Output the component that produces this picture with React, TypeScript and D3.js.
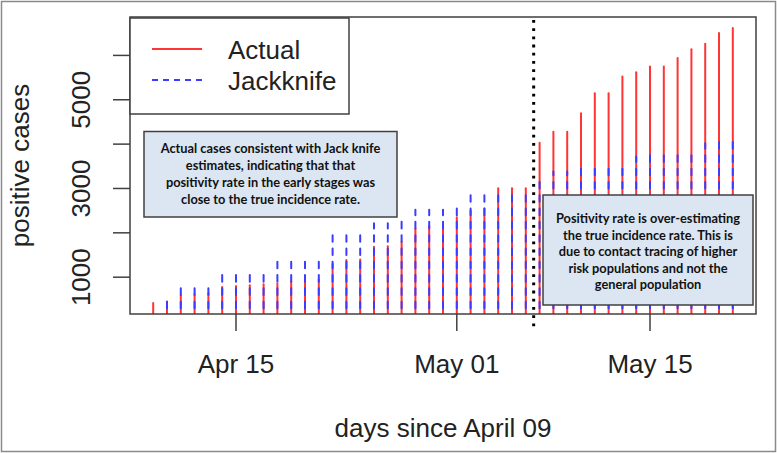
import React from "react";
import * as d3 from "d3";

// ---- data ----
const startDate = "2020-04-09";
const dayIndex = d3.range(0, 43); // days since April 09
const actual = [418, 450, 600, 620, 640, 780, 800, 820, 840, 860, 900, 920, 950,
  1300, 1385, 1400, 1685, 1700, 1800, 2100, 2150, 2200, 2350, 2500, 2550, 3003, 3003, 3003,
  4030, 4280, 4280, 4695, 5147, 5147, 5525, 5623, 5750, 5750, 5940, 6137, 6265, 6505, 6618];
const jackknife: (number | null)[] = [null, 495, 796, 796, 796, 1078, 1078, 1078, 1078, 1360, 1360, 1360, 1360,
  1955, 1955, 1955, 2215, 2215, 2288, 2520, 2520, 2520, 2590, 2853, 2853, 2950, 2950, 2950,
  3190, 3380, 3380, 3455, 3495, 3495, 3495, 3720, 3757, 3757, 3795, 3795, 4020, 4096, 4096];
const xTickDays = [6, 22, 36];
const xTickLabels = ["Apr 15", "May 01", "May 15"];
const yTicks = [1000, 2000, 3000, 4000, 5000, 6000];
const yTickLabels = ["1000", "", "3000", "", "5000", ""];
const cutoffDay = 27.57;
const legendLabels = ["Actual", "Jackknife"];
const note1 = [
  "Actual cases consistent with Jack knife",
  "estimates, indicating that that",
  "positivity rate in the early stages was",
  "close to the true incidence rate.",
];
const note2 = [
  "Positivity rate is over-estimating",
  "the true incidence rate. This is",
  "due to contact tracing of higher",
  "risk populations and not the",
  "general population",
];

const W = 777, H = 453;
const P = { left: 130, right: 756, top: 17, bottom: 314 };
const RED = "#ff3434";
const BLUE = "#3c3cff";
const RFONT = "'Liberation Sans', Arial, sans-serif";
const NFONT = "Lato, 'Open Sans', sans-serif";

export default function App() {
  const nDays = dayIndex.length - 1;
  const x = d3.scaleLinear().domain([-0.04 * nDays, nDays * 1.04]).range([P.left, P.right]);
  const allVals = [...actual, ...(jackknife.filter((v) => v != null) as number[])];
  const lo = d3.min(allVals)!, hi = d3.max(allVals)!;
  const pad = 0.04 * (hi - lo);
  const y = d3.scaleLinear().domain([lo - pad, hi + pad]).range([P.bottom, P.top]);
  const line = d3.line<[number, number]>().x((d) => d[0]).y((d) => d[1]);
  const tick = 17;

  return (
    <svg width={W} height={H} style={{ position: "absolute", left: 0, top: 0, background: "#fff" }}>
      <defs>
        <clipPath id="plotclip">
          <rect x={P.left} y={P.top} width={P.right - P.left} height={P.bottom - P.top} />
        </clipPath>
      </defs>
      <rect x={0} y={0} width={W} height={H} fill="#fff" />
      <rect x={1.5} y={1.5} width={W - 3} height={H - 3} fill="none" stroke="#8a8a8a" strokeWidth={1.5} />

      <g clipPath="url(#plotclip)">
        {dayIndex.map((d, i) => (
          <path key={"a" + i} d={line([[x(d), y(0)], [x(d), y(actual[i])]])!} stroke={RED}
            strokeWidth={2} strokeLinecap="round" fill="none" />
        ))}
        {dayIndex.map((d, i) =>
          jackknife[i] == null ? null : (
            <path key={"j" + i} d={line([[x(d), y(0)], [x(d), y(jackknife[i] as number)]])!} stroke={BLUE}
              strokeWidth={2} strokeLinecap="round" strokeDasharray="6.6 6.7" fill="none" />
          )
        )}
      </g>

      {/* plot box */}
      <rect x={P.left} y={P.top} width={P.right - P.left} height={P.bottom - P.top} fill="none"
        stroke="#404040" strokeWidth={1.5} />

      {/* x axis */}
      {xTickDays.map((d, i) => (
        <g key={"xt" + i}>
          <line x1={x(d)} x2={x(d)} y1={P.bottom} y2={P.bottom + tick} stroke="#404040" strokeWidth={1.5} />
          <text x={x(d)} y={373} textAnchor="middle" fontFamily={RFONT} fontSize={26} fill="#222">
            {xTickLabels[i]}
          </text>
        </g>
      ))}
      {/* y axis */}
      {yTicks.map((v, i) => (
        <g key={"yt" + i}>
          <line x1={P.left - tick} x2={P.left} y1={y(v)} y2={y(v)} stroke="#404040" strokeWidth={1.5} />
          {yTickLabels[i] && (
            <text transform={`translate(90,${y(v)}) rotate(-90)`} textAnchor="middle" fontFamily={RFONT}
              fontSize={26} fill="#222">
              {yTickLabels[i]}
            </text>
          )}
        </g>
      ))}
      <text x={(P.left + P.right) / 2} y={437} textAnchor="middle" fontFamily={RFONT} fontSize={26} fill="#222">
        days since April 09
      </text>
      <text transform={`translate(29,${(P.top + P.bottom) / 2}) rotate(-90)`} textAnchor="middle"
        fontFamily={RFONT} fontSize={26} fill="#222">
        positive cases
      </text>

      {/* cutoff dotted line */}
      <line x1={x(cutoffDay)} x2={x(cutoffDay)} y1={P.top + 3} y2={P.bottom + 17} stroke="#000"
        strokeWidth={3} strokeDasharray="2.8 5.4" />

      {/* legend */}
      <rect x={P.left} y={P.top + 1} width={219} height={96} fill="#fff" stroke="#404040" strokeWidth={1.5} />
      <line x1={152} x2={202} y1={49} y2={49} stroke={RED} strokeWidth={2} />
      <line x1={152} x2={202} y1={80} y2={80} stroke={BLUE} strokeWidth={2} strokeDasharray="6 5" />
      <text x={228} y={59} fontFamily={RFONT} fontSize={26} fill="#222">{legendLabels[0]}</text>
      <text x={228} y={90} fontFamily={RFONT} fontSize={26} fill="#222">{legendLabels[1]}</text>

      {/* annotation 1 */}
      <rect x={144} y={131.5} width={253} height={85.5} fill="#dce6f2" stroke="#404040" strokeWidth={1.5} />
      {note1.map((t, i) => (
        <text key={"n1" + i} x={270.5} y={153 + i * 17} textAnchor="middle" fontFamily={NFONT}
          fontWeight={700} fontSize={12.8} fill="#111">{t}</text>
      ))}
      {/* annotation 2 */}
      <rect x={543} y={195} width={210} height={110} fill="#dce6f2" stroke="#404040" strokeWidth={1.5} />
      {note2.map((t, i) => (
        <text key={"n2" + i} x={648} y={223 + i * 16.5} textAnchor="middle" fontFamily={NFONT}
          fontWeight={700} fontSize={12.8} fill="#111">{t}</text>
      ))}
    </svg>
  );
}
